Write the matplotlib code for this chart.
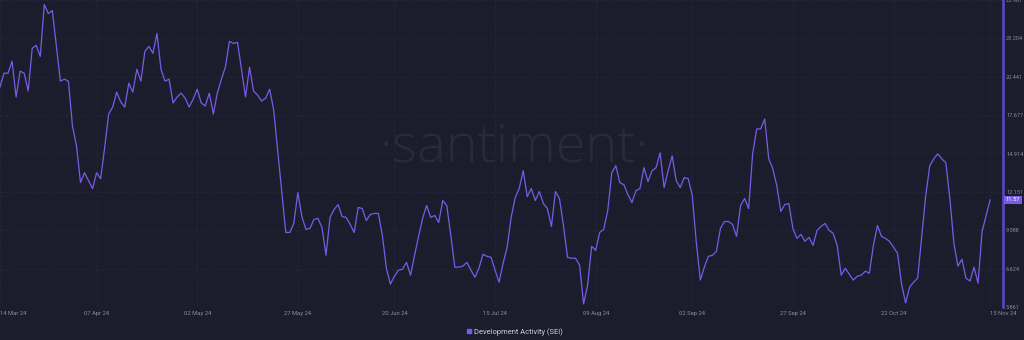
import numpy as np
import pandas as pd
import matplotlib
matplotlib.use('Agg')
import matplotlib.pyplot as plt
import matplotlib.dates as mdates
from matplotlib.lines import Line2D

plt.rcParams['font.family'] = ['Roboto', 'DejaVu Sans']

# daily development activity (SEI), 14 Mar 24 .. 15 Nov 24
dev_activity = [
    19.70, 20.70, 20.70, 21.56, 18.98, 20.84, 20.70, 19.41, 22.49, 22.70,
    21.91, 25.64, 24.99, 25.21, 22.63, 20.12, 20.27, 20.12, 16.90, 15.47,
    12.82, 13.53, 12.96, 12.39, 13.53, 13.10, 15.32, 17.76, 18.26, 19.33,
    18.62, 18.26, 19.98, 19.33, 20.98, 20.12, 22.27, 22.63, 22.13, 23.56,
    20.98, 20.12, 20.27, 18.55, 18.98, 19.26, 18.90, 18.26, 18.83, 19.55,
    18.55, 18.33, 19.26, 17.76, 19.26, 20.27, 21.13, 22.99, 22.84, 22.92,
    20.98, 18.98, 21.13, 19.41, 19.12, 18.69, 18.90, 19.55, 18.04, 15.11,
    12.10, 9.23, 9.23, 9.88, 12.10, 10.38, 9.45, 9.52, 10.17, 10.24,
    9.59, 7.59, 10.31, 10.88, 11.24, 10.38, 10.31, 9.81, 9.23, 11.03,
    10.95, 10.09, 10.52, 10.60, 10.60, 9.02, 6.65, 5.51, 6.08, 6.51,
    6.58, 7.08, 6.15, 7.59, 8.95, 10.24, 11.17, 10.31, 10.45, 9.95,
    11.53, 11.17, 9.02, 6.73, 6.73, 6.80, 7.08, 6.51, 6.01, 6.65,
    7.66, 7.51, 7.44, 6.51, 5.65, 7.01, 8.16, 10.31, 11.74, 12.39,
    13.68, 11.81, 12.39, 11.53, 12.17, 11.31, 10.95, 9.66, 12.17, 11.67,
    9.73, 7.44, 7.37, 7.37, 6.87, 4.08, 5.44, 8.23, 7.94, 9.23,
    9.45, 10.81, 13.53, 14.03, 12.82, 12.67, 11.96, 11.38, 12.24, 12.39,
    13.89, 12.89, 13.68, 13.89, 14.96, 12.46, 13.68, 14.75, 12.96, 12.46,
    13.18, 13.10, 11.88, 8.52, 5.80, 6.73, 7.51, 7.58, 7.87, 9.52,
    10.02, 10.02, 9.81, 8.95, 11.17, 11.67, 10.95, 14.89, 16.68, 16.68,
    17.40, 14.53, 13.82, 12.60, 10.74, 11.24, 11.31, 9.52, 8.80, 9.09,
    8.59, 8.88, 8.30, 9.38, 9.66, 9.88, 9.38, 9.16, 8.30, 6.15,
    6.65, 6.22, 5.80, 6.08, 6.15, 6.44, 6.30, 8.30, 9.73, 8.95,
    8.80, 8.59, 8.16, 7.73, 5.51, 4.15, 5.29, 5.65, 5.94, 8.95,
    11.88, 14.03, 14.53, 14.89, 14.53, 14.25, 11.67, 8.45, 6.80, 7.30,
    5.94, 5.73, 6.73, 5.58, 9.30, 10.45, 11.57,
]
dates = pd.date_range('2024-03-14', periods=len(dev_activity), freq='D')

y_ticks = [3.861, 6.624, 9.388, 12.151, 14.914, 17.677, 20.441, 23.204, 25.967]
x_ticks = ['2024-03-14', '2024-04-07', '2024-05-02', '2024-05-27', '2024-06-20',
           '2024-07-15', '2024-08-09', '2024-09-02', '2024-09-27', '2024-10-22',
           '2024-11-15']
last_value = 11.57

bg = '#1b1d2d'
purple = '#7a5ae8'
grey = '#8a8ca2'

fig = plt.figure(figsize=(10.24, 3.4), dpi=100, facecolor=bg)
ax = fig.add_axes([0, 33 / 340, 1003 / 1024, 307 / 340])
ax.set_facecolor(bg)

# watermark
ax.text(0.513, 0.515, '·santiment·', transform=ax.transAxes, ha='center', va='center',
        fontsize=39, family='Open Sans', fontweight='light', color='#282b3d', zorder=0)

ax.plot(dates, dev_activity, color=purple, linewidth=0.9, zorder=3)

ax.set_xlim(pd.Timestamp('2024-03-14'), pd.Timestamp('2024-03-14') + pd.Timedelta(days=249.2))
ax.set_ylim(3.861, 25.855)

ax.yaxis.tick_right()
ax.set_yticks(y_ticks)
ax.set_yticklabels(['{:.3f}'.format(v) for v in y_ticks])
ax.tick_params(axis='y', length=0, pad=2.2, labelsize=4.0, labelcolor=grey)
for lab in ax.get_yticklabels():
    lab.set_horizontalalignment('left')

tick_dates = pd.to_datetime(x_ticks)
ax.set_xticks(tick_dates)
ax.set_xticklabels([d.strftime('%d %b %y') for d in tick_dates])
ax.tick_params(axis='x', length=0, pad=3, labelsize=4.2, labelcolor=grey)
xlabs = ax.get_xticklabels()
xlabs[0].set_horizontalalignment('left')
xlabs[-1].set_horizontalalignment('left')

ax.grid(True, color='#272a3c', linestyle=(0, (3, 3)), linewidth=0.6)

for side in ['top', 'left', 'bottom']:
    ax.spines[side].set_visible(False)
ax.spines['right'].set_color('#5b48c8')
ax.spines['right'].set_linewidth(1.8)

# last value badge
ax.annotate('{:.2f}'.format(last_value), xy=(1, last_value), xycoords=('axes fraction', 'data'),
            xytext=(2, 0), textcoords='offset points', ha='left', va='center',
            fontsize=4.2, color='white',
            bbox=dict(boxstyle='square,pad=0.25', fc=purple, ec='none'))

handle = Line2D([], [], marker='s', linestyle='none', color=purple, markersize=3.5)
fig.legend([handle], ['Development Activity (SEI)'], loc='center',
           bbox_to_anchor=(0.502, 0.024), frameon=False, fontsize=5.4,
           labelcolor='#d0d1da', handletextpad=0.2, handlelength=1)

fig.savefig('out.png', dpi=100, facecolor=bg)
